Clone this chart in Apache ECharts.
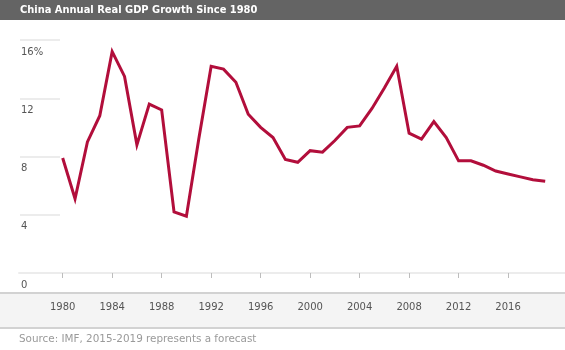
<!DOCTYPE html>
<html>
<head>
<meta charset="utf-8">
<script src="https://cdn.jsdelivr.net/npm/echarts@6/dist/echarts.min.js"></script>
<style>
html,body{margin:0;padding:0;background:#fff;}
#c{width:565px;height:350px;}
</style>
</head>
<body>
<div id="c"></div>
<script>
var years = [1980,1981,1982,1983,1984,1985,1986,1987,1988,1989,1990,1991,1992,1993,1994,1995,1996,1997,1998,1999,2000,2001,2002,2003,2004,2005,2006,2007,2008,2009,2010,2011,2012,2013,2014,2015,2016,2017,2018,2019];
var growth = [7.9,5.1,9.0,10.8,15.2,13.5,8.8,11.6,11.2,4.2,3.9,9.2,14.2,14.0,13.1,10.9,10.0,9.3,7.8,7.6,8.4,8.3,9.1,10.0,10.1,11.3,12.7,14.2,9.6,9.2,10.4,9.3,7.7,7.7,7.4,7.0,6.8,6.6,6.4,6.3];
var xTicks = [1980,1984,1988,1992,1996,2000,2004,2008,2012,2016];
var yTicks = [0,4,8,12,16];
var titleText = 'China Annual Real GDP Growth Since 1980';
var sourceText = 'Source: IMF, 2015-2019 represents a forecast';

var chart = echarts.init(document.getElementById('c'), null, {renderer:'canvas'});
var FONT = '"DejaVu Sans", Verdana, sans-serif';
var TFONT = '"DejaVu Sans Condensed", "DejaVu Sans", sans-serif';
chart.setOption({
  animation:false,
  backgroundColor:'#fff',
  graphic:[
    {type:'rect', z:-10, shape:{x:0,y:0,width:565,height:20}, style:{fill:'#646464'}},
    {type:'text', x:20, y:10, style:{text:titleText, fill:'#fff', font:'bold 11px ' + TFONT, verticalAlign:'middle'}},
    {type:'rect', z:-10, shape:{x:0,y:293,width:565,height:35}, style:{fill:'#f4f4f4'}},
    {type:'rect', z:-9, shape:{x:0,y:292,width:565,height:2}, style:{fill:'#d2d2d2'}},
    {type:'rect', z:-9, shape:{x:0,y:327,width:565,height:2}, style:{fill:'#d2d2d2'}},
    {type:'text', x:19, y:339, style:{text:sourceText, fill:'#9a9a9a', font:'10.4px ' + FONT, verticalAlign:'middle'}}
  ],
  grid:[
    {left:19, right:0, top:40, bottom:77},
    {left:20, width:40, top:40, bottom:77}
  ],
  xAxis:[
    {type:'value', gridIndex:0, min:1976.47, max:2020.6, position:'bottom', offset:20,
     axisLine:{show:false},
     axisTick:{show:true, length:5, customValues:xTicks, lineStyle:{color:'#bdbdbd', width:1}},
     axisLabel:{customValues:xTicks, color:'#555', fontSize:10, fontFamily:FONT, margin:9, formatter:function(v){return String(v);}},
     splitLine:{show:false}},
    {type:'value', gridIndex:0, min:1976.47, max:2020.6, position:'bottom',
     axisLine:{show:true, lineStyle:{color:'#ececec', width:2}},
     axisTick:{show:false}, axisLabel:{show:false}, splitLine:{show:false}},
    {type:'value', gridIndex:1, min:0, max:1, show:false}
  ],
  yAxis:[
    {type:'value', gridIndex:0, min:0, max:16, interval:4, show:false, splitLine:{show:false}},
    {type:'value', gridIndex:1, min:0, max:16, interval:4,
     axisLine:{show:false}, axisTick:{show:false},
     splitLine:{show:true, lineStyle:{color:'#ececec', width:2}},
     axisLabel:{inside:true, margin:1, color:'#555', fontSize:10, fontFamily:FONT, verticalAlign:'top', padding:[7,0,0,0],
       formatter:function(v){return v===16 ? '16%' : String(v);}}}
  ],
  series:[{
    type:'line', xAxisIndex:0, yAxisIndex:0,
    data: years.map(function(y,i){return [y, growth[i]];}),
    showSymbol:false, symbol:'none',
    lineStyle:{color:'#b20e3b', width:3, join:'miter'},
    z:5
  }]
});
</script>
</body>
</html>
